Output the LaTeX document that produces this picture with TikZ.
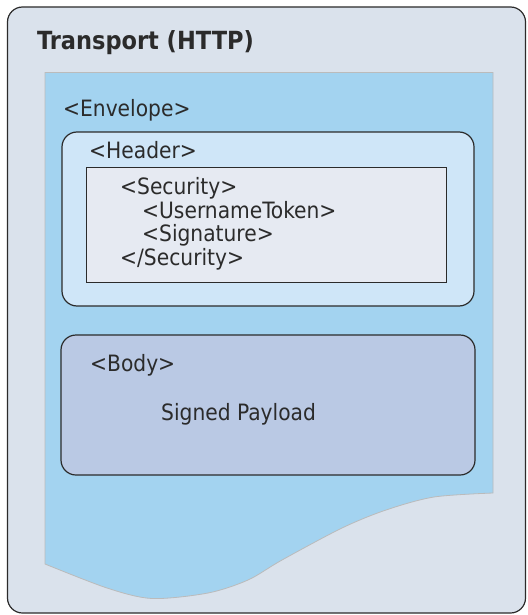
\documentclass[tikz,border=0pt]{standalone}
\usepackage{fontspec}
\setmainfont{DejaVu Sans Condensed}
\usepackage{xcolor}
\definecolor{transportbg}{HTML}{DAE2EC}
\definecolor{envelopebg}{HTML}{A3D3F0}
\definecolor{headerbg}{HTML}{CFE6F8}
\definecolor{securitybg}{HTML}{E6EAF2}
\definecolor{bodybg}{HTML}{BAC9E4}
\definecolor{inkgray}{HTML}{2B2B2B}
\definecolor{edgegray}{HTML}{BBBBBB}
\usepackage{tikz}

\tikzset{
  boxline/.style={draw=inkgray, line width=1.2pt},
  tag/.style={anchor=base west, inner sep=0pt, text=inkgray,
    font=\fontsize{22.5}{27}\selectfont},
}

\begin{document}
\begin{tikzpicture}[x=1pt, y=-1pt]
  \useasboundingbox (0,0) rectangle (527,615);

  % Transport frame
  \draw[boxline, fill=transportbg, rounded corners=15pt] (7.5,7) rectangle (525.5,613);
  \node[tag, font=\bfseries\fontsize{25}{30}\selectfont] (transport) at (37,50) {Transport (HTTP)};

  % Envelope sheet with torn bottom edge
  \draw[edgegray, line width=0.8pt, fill=envelopebg]
    (45,72.5) -- (493,72.5) -- (493,493)
    -- plot[smooth, tension=0.5] coordinates {(493,493) (434,497) (386,510) (342,528)
       (282,560) (248,580) (208,593) (152,598.5) (107,588) (45,564)}
    -- cycle;
  \node[tag] (envelope) at (63,117) {<Envelope>};

  % Header
  \draw[boxline, fill=headerbg, rounded corners=15pt] (62,132) rectangle (474,306);
  \node[tag] (header) at (89,158) {<Header>};
  \draw[draw=inkgray, line width=1pt, fill=securitybg] (86,167) rectangle (446,282);
  \node[tag] (secopen) at (120,194) {<Security>};
  \node[tag] (token) at (142,218) {<UsernameToken>};
  \node[tag] (signature) at (142,241) {<Signature>};
  \node[tag] (secclose) at (120,265) {</Security>};

  % Body
  \draw[boxline, fill=bodybg, rounded corners=15pt] (61,335) rectangle (475,475);
  \node[tag] (body) at (90,371) {<Body>};
  \node[tag] (payload) at (161,420) {Signed Payload};
\end{tikzpicture}
\end{document}
